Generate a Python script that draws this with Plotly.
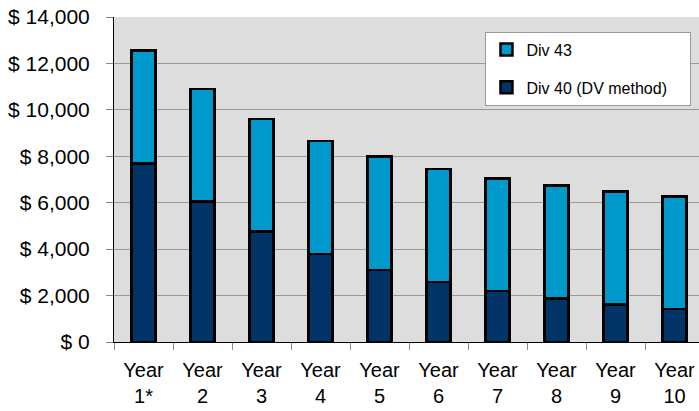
import plotly.graph_objects as go

categories = ["Year<br>1*", "Year<br>2", "Year<br>3", "Year<br>4", "Year<br>5",
              "Year<br>6", "Year<br>7", "Year<br>8", "Year<br>9", "Year<br>10"]
div40 = [7700, 6050, 4750, 3800, 3100, 2575, 2200, 1875, 1625, 1425]
totals = [12550, 10900, 9600, 8650, 8000, 7450, 7050, 6750, 6475, 6275]
div43 = [t - d for t, d in zip(totals, div40)]
series_names = ["Div 40 (DV method)", "Div 43"]

font_family = "Liberation Sans, Arial, sans-serif"
pad = "\u00a0" * 4

fig = go.Figure()
fig.add_trace(go.Bar(x=categories, y=div40, name=series_names[0] + pad,
                     marker=dict(color="#003366", line=dict(color="#000000", width=2.5)),
                     legendgroup="b", legendrank=2))
fig.add_trace(go.Bar(x=categories, y=div43, name=series_names[1],
                     marker=dict(color="#0099cc", line=dict(color="#000000", width=2.5)),
                     legendgroup="a", legendrank=1))

fig.update_layout(
    width=699, height=411,
    margin=dict(l=114, r=0, t=17, b=69),
    barmode="stack", bargap=0.59,
    plot_bgcolor="#dddddd", paper_bgcolor="#ffffff",
    font=dict(family=font_family, size=21, color="#000000"),
    showlegend=True,
    legend=dict(x=0.635, y=0.955, xanchor="left", yanchor="top",
                bgcolor="#ffffff", bordercolor="#999999", borderwidth=1,
                font=dict(size=16), traceorder="grouped",
                tracegroupgap=14, itemwidth=30),
)
fig.update_yaxes(range=[0, 14000], dtick=2000, tickprefix="$ ", tickformat=",d",
                 showgrid=True, gridcolor="#999999", gridwidth=1,
                 showline=True, linecolor="#000000", linewidth=1,
                 ticks="outside", ticklen=7, tickcolor="#888888",
                 ticklabelstandoff=12, zeroline=False, automargin=False)
fig.update_xaxes(range=[-0.5, 9.415], tickson="boundaries",
                 showline=True, linecolor="#000000", linewidth=1,
                 ticks="outside", ticklen=7, tickcolor="#888888",
                 showgrid=False, ticklabelstandoff=10, automargin=False,
                 tickfont=dict(size=20))

fig.write_html("out.html")
